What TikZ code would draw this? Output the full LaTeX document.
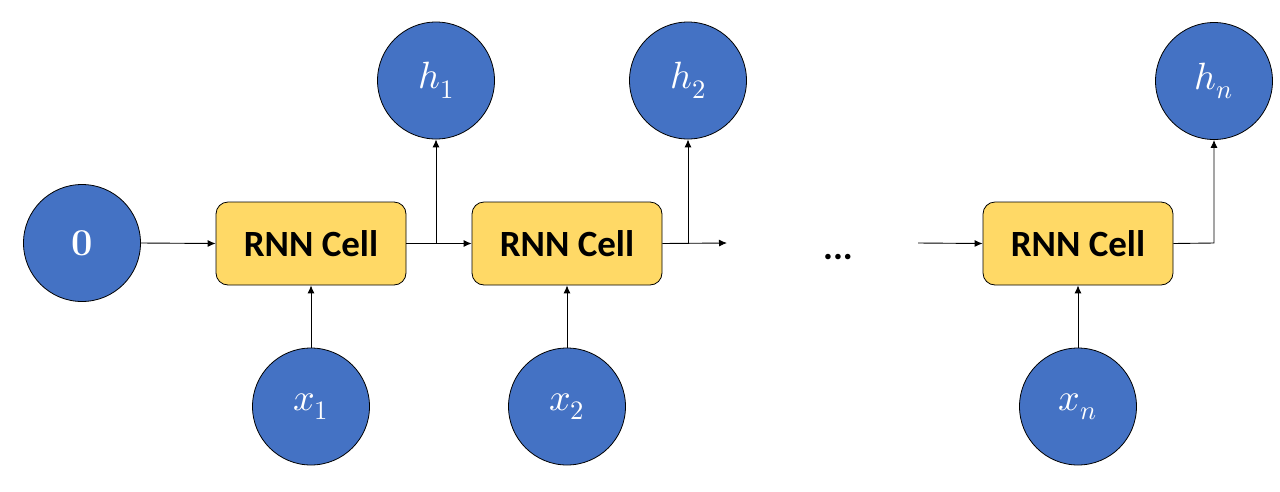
\documentclass[tikz,border=0pt]{standalone}
\usepackage{unicode-math}
\setmathfont{Latin Modern Math}
\newfontfamily\calibri{Carlito}
\usetikzlibrary{arrows.meta}
\definecolor{nodeblue}{HTML}{4472C4}
\definecolor{cellyellow}{HTML}{FFD966}
\begin{document}
\begin{tikzpicture}[x=1pt,y=-1pt,
  circ/.style={circle,draw=black,line width=0.8pt,fill=nodeblue,minimum size=117pt,inner sep=0pt,text=white,font=\fontsize{38}{42}\selectfont},
  cellbox/.style={rounded corners=12pt,draw=black,line width=0.8pt,fill=cellyellow,minimum width=190pt,minimum height=83pt,inner sep=0pt,font=\calibri\bfseries\fontsize{37}{42}\selectfont},
  conn/.style={line width=0.9pt,-{Latex[length=8pt,width=7pt]}}]
\useasboundingbox (0,0) rectangle (1280,491);
\node[circ] (c0) at (82,243) {$\mathbf{0}$};
\node[cellbox] (cell1) at (311,243.5) {RNN Cell};
\node[cellbox] (cell2) at (567,243.5) {RNN Cell};
\node[cellbox] (cell3) at (1078,243.5) {RNN Cell};
\node[circ] (h1) at (436,80.5) {$h_1$};
\node[circ] (h2) at (688,80.5) {$h_2$};
\node[circ] (hn) at (1214,81) {$h_n$};
\node[circ] (x1) at (311,406.5) {$x_1$};
\node[circ] (x2) at (567,406.5) {$x_2$};
\node[circ] (xn) at (1078,406.5) {$x_n$};
\node[font=\calibri\bfseries\fontsize{37}{42}\selectfont,inner sep=0pt,anchor=base] (dots) at (838,259) {...};
\coordinate (b1) at (436,243);
\coordinate (b2) at (688,243);
\coordinate (e2) at (727,243);
\coordinate (s3) at (918,243);
\coordinate (b3) at (1214,243);
\draw[conn] (c0.east) -- (cell1.west);
\draw[conn] (cell1.east) -- (cell2.west);
\draw[conn] (b1) -- (h1.south);
\draw[conn] (cell2.east) -- (e2);
\draw[conn] (b2) -- (h2.south);
\draw[conn] (s3) -- (cell3.west);
\draw[conn] (cell3.east) -- (b3) -- (hn.south);
\draw[conn] (x1.north) -- (cell1.south);
\draw[conn] (x2.north) -- (cell2.south);
\draw[conn] (xn.north) -- (cell3.south);
\end{tikzpicture}
\end{document}
